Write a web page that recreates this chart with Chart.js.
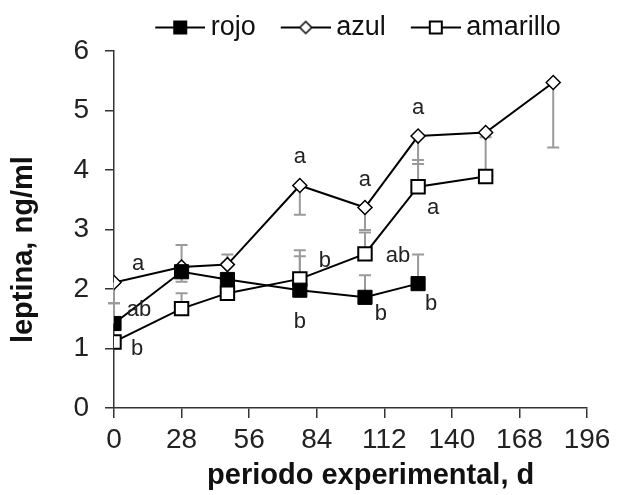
<!DOCTYPE html>
<html>
<head>
<meta charset="utf-8">
<script src="https://cdn.jsdelivr.net/npm/chart.js@4/dist/chart.umd.min.js"></script>
<style>
  html, body { margin: 0; padding: 0; background: #fff; }
  #wrap { width: 619px; height: 495px; }
</style>
</head>
<body>
<div id="wrap"><canvas id="chart"></canvas></div>
<script>
// sampling days (x) and leptin means per group
var days = [0, 28, 47, 77, 104, 126, 154, 182];
var yTicks = [0, 1, 2, 3, 4, 5, 6];
var xTicks = [0, 28, 56, 84, 112, 140, 168, 196];

var rojo     = [1.42, 2.29, 2.16, 1.98, 1.86, 2.09];
var azul     = [2.11, 2.37, 2.41, 3.74, 3.37, 4.57, 4.63, 5.47];
var amarillo = [1.11, 1.67, 1.93, 2.17, 2.59, 3.72, 3.89];

// where each error bar ends (value of the cap)
var rojoErr     = [1.76, 2.74, 2.58, 2.55, 2.23, 2.58];
var azulErr     = [1.76, 2.12, null, 3.25, 2.99, 4.10, null, 4.38];
var amarilloErr = [null, 1.93, null, 2.65, 2.95, 4.17, 4.55];

// significance letters
var rojoLetters     = ['ab', null, null, 'b', 'b', 'b'];
var azulLetters     = ['a', null, null, 'a', 'a', 'a', null, null];
var amarilloLetters = ['b', null, null, 'b', 'ab', 'a', null];

// pixel offsets of the letters from their point (style only)
var rojoLetterOff     = [[25, -14], null, null, [0, 32], [16, 17], [13, 20]];
var azulLetterOff     = [[24, -19], null, null, [0, -29], [0, -28], [0, -28], null, null];
var amarilloLetterOff = [[23, 7], null, null, [25, -18], [33, 2], [15, 21], null];

var FONT = "'Liberation Sans', Arial, sans-serif";
var SP = '\u00a0';

function pts(vals) {
  return vals.map(function(v, i) { return { x: days[i], y: v }; });
}

// legend symbols: a short line with the marker on it
function legendSymbol(kind) {
  var c = document.createElement('canvas');
  c.width = 73; c.height = 20;
  var g = c.getContext('2d');
  g.strokeStyle = '#000'; g.lineWidth = 2;
  g.beginPath(); g.moveTo(23, 10); g.lineTo(73, 10); g.stroke();
  var cx = 48, cy = 10;
  if (kind === 'rojo') {
    g.fillStyle = '#000'; g.fillRect(cx - 7, cy - 7, 14, 14);
  } else if (kind === 'azul') {
    g.fillStyle = '#fff'; g.lineWidth = 1.5;
    g.beginPath(); g.moveTo(cx - 6, cy); g.lineTo(cx, cy - 6); g.lineTo(cx + 6, cy); g.lineTo(cx, cy + 6); g.closePath();
    g.fill(); g.stroke();
  } else {
    g.fillStyle = '#fff'; g.lineWidth = 2;
    g.fillRect(cx - 6, cy - 6, 12, 12); g.strokeRect(cx - 6, cy - 6, 12, 12);
  }
  return c;
}
var symbols = [legendSymbol('rojo'), legendSymbol('azul'), legendSymbol('amarillo')];

var errs = [rojoErr, azulErr, amarilloErr];
var letters = [rojoLetters, azulLetters, amarilloLetters];
var letterOffs = [rojoLetterOff, azulLetterOff, amarilloLetterOff];

var errPlugin = {
  id: 'errbars',
  beforeDatasetsDraw: function(chart) {
    var ctx = chart.ctx, xs = chart.scales.x, ys = chart.scales.y;
    ctx.save();
    ctx.strokeStyle = '#9a9a9a';
    ctx.lineWidth = 2;
    chart.data.datasets.forEach(function(ds, d) {
      errs[d].forEach(function(v, i) {
        if (v == null) return;
        var px = xs.getPixelForValue(ds.data[i].x);
        var p0 = ys.getPixelForValue(ds.data[i].y);
        var p1 = ys.getPixelForValue(v);
        ctx.beginPath();
        ctx.moveTo(px, p0); ctx.lineTo(px, p1);
        ctx.moveTo(px - 6, p1); ctx.lineTo(px + 6, p1);
        ctx.stroke();
      });
    });
    ctx.restore();
  }
};

var letterPlugin = {
  id: 'letters',
  afterDatasetsDraw: function(chart) {
    var ctx = chart.ctx, xs = chart.scales.x, ys = chart.scales.y;
    ctx.save();
    ctx.font = '22px ' + FONT;
    ctx.fillStyle = '#222';
    ctx.textAlign = 'center';
    ctx.textBaseline = 'middle';
    chart.data.datasets.forEach(function(ds, d) {
      letters[d].forEach(function(t, i) {
        if (!t) return;
        var off = letterOffs[d][i];
        ctx.fillText(t, xs.getPixelForValue(ds.data[i].x) + off[0], ys.getPixelForValue(ds.data[i].y) + off[1]);
      });
    });
    ctx.restore();
  }
};

var ctx = document.getElementById('chart').getContext('2d');
new Chart(ctx, {
  type: 'scatter',
  data: {
    datasets: [{
      label: 'rojo',
      data: pts(rojo),
      showLine: true,
      borderColor: '#000',
      borderWidth: 2,
      pointStyle: 'rect',
      pointRadius: 10,
      pointBackgroundColor: '#000',
      pointBorderColor: '#000',
      pointBorderWidth: 1
    }, {
      label: 'azul',
      data: pts(azul),
      showLine: true,
      borderColor: '#000',
      borderWidth: 2,
      pointStyle: 'rectRot',
      pointRadius: 7,
      pointBackgroundColor: '#fff',
      pointBorderColor: '#000',
      pointBorderWidth: 1.5
    }, {
      label: 'amarillo',
      data: pts(amarillo),
      showLine: true,
      borderColor: '#000',
      borderWidth: 2,
      pointStyle: 'rect',
      pointRadius: 9.5,
      pointBackgroundColor: '#fff',
      pointBorderColor: '#000',
      pointBorderWidth: 2
    }]
  },
  options: {
    responsive: true,
    maintainAspectRatio: false,
    animation: false,
    layout: { padding: { left: 0, right: 32, top: 4, bottom: 0 } },
    plugins: {
      tooltip: { enabled: false },
      legend: {
        position: 'top',
        fullSize: false,
        labels: {
          usePointStyle: true,
          pointStyleWidth: 57,
          padding: 10,
          color: '#111',
          font: { family: FONT, size: 27 },
          generateLabels: function(chart) {
            var items = Chart.defaults.plugins.legend.labels.generateLabels(chart);
            items.forEach(function(it, i) { it.pointStyle = symbols[i]; });
            return items;
          }
        }
      }
    },
    scales: {
      x: {
        type: 'linear',
        min: 0,
        max: 196,
        afterBuildTicks: function(s) { s.ticks = xTicks.map(function(v) { return { value: v }; }); },
        afterFit: function(s) { s.height = 87; },
        ticks: { color: '#222', padding: 5, font: { family: FONT, size: 28 } },
        grid: { drawOnChartArea: false, drawTicks: true, tickLength: 10, color: '#333', lineWidth: 1.5 },
        border: { color: '#333', width: 1.5 },
        title: {
          display: true,
          text: SP + SP + SP + SP + SP + 'periodo experimental, d',
          color: '#111',
          font: { family: FONT, size: 29, weight: 'bold' },
          padding: { top: 0, bottom: 2 }
        }
      },
      y: {
        min: 0,
        max: 6,
        afterBuildTicks: function(s) { s.ticks = yTicks.map(function(v) { return { value: v }; }); },
        afterFit: function(s) { s.width = 114; },
        ticks: { color: '#222', padding: 16, font: { family: FONT, size: 28 } },
        grid: { drawOnChartArea: false, drawTicks: true, tickLength: 9, color: '#333', lineWidth: 1.5 },
        border: { color: '#333', width: 1.5 },
        title: {
          display: true,
          text: 'leptina, ng/ml' + SP + SP + SP + SP + SP,
          color: '#111',
          font: { family: FONT, size: 29, weight: 'bold' },
          padding: { top: 7, bottom: 0 }
        }
      }
    }
  },
  plugins: [errPlugin, letterPlugin]
});
</script>
</body>
</html>
